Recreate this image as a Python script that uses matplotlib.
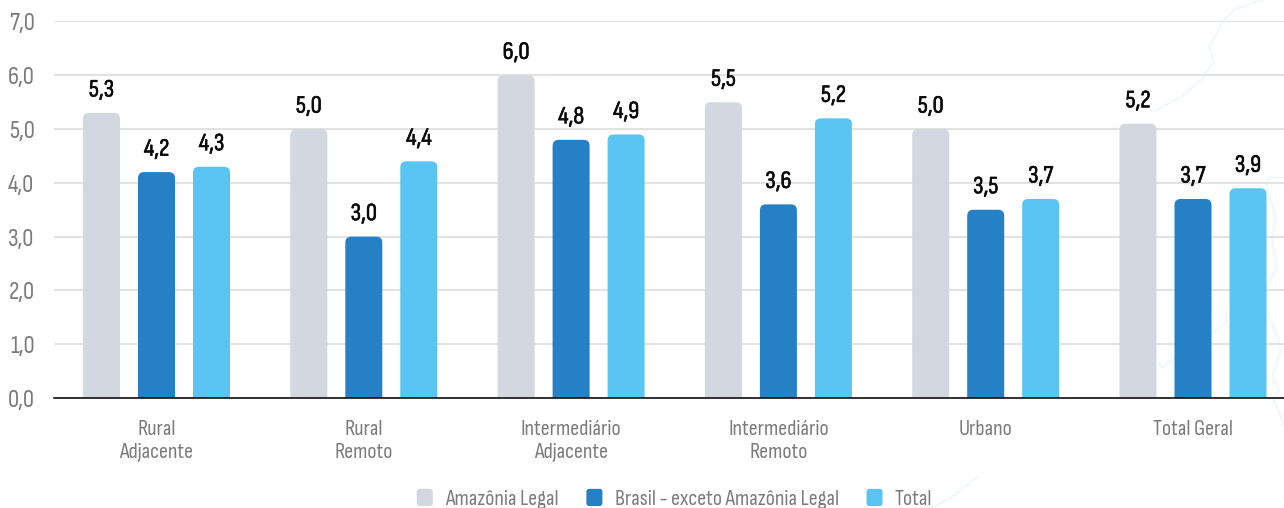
import numpy as np
from matplotlib import pyplot as plt
from matplotlib import patheffects as pe
from matplotlib.legend_handler import HandlerPatch
from matplotlib.lines import Line2D
from matplotlib.patches import FancyBboxPatch, Patch

categories = ['Rural\nAdjacente', 'Rural\nRemoto', 'Intermediário\nAdjacente',
              'Intermediário\nRemoto', 'Urbano', 'Total Geral']
series_names = ['Amazônia Legal', 'Brasil - exceto Amazônia Legal', 'Total']
amazonia = [5.3, 5.0, 6.0, 5.5, 5.0, 5.1]
brasil = [4.2, 3.0, 4.8, 3.6, 3.5, 3.7]
total = [4.3, 4.4, 4.9, 5.2, 3.7, 3.9]
amazonia_labels = ['5,3', '5,0', '6,0', '5,5', '5,0', '5,2']
colors = ['#d3d8e0', '#2580c5', '#5ac5f2']
yticks = [0, 1, 2, 3, 4, 5, 6, 7]

# faint map outline behind the chart, traced in pixels
map_outline = [
    [(1264, 0), (1251, 3), (1234, 10), (1224, 20), (1209, 47), (1214, 62), (1201, 80), (1181, 97), (1156, 110)],
    [(1284, 178), (1269, 177), (1266, 187), (1276, 217), (1272, 240), (1277, 267), (1267, 287), (1267, 310),
     (1276, 333), (1281, 350), (1272, 377), (1279, 390), (1274, 400), (1284, 425)],
    [(1226, 312), (1227, 323), (1212, 333), (1209, 340)],
    [(1174, 358), (1162, 368), (1159, 363)],
    [(978, 476), (955, 495), (932, 508)],
]

plt.rcParams['font.family'] = ['Sofia Sans Condensed', 'Roboto', 'DejaVu Sans']


class RoundHandle(HandlerPatch):
    def create_artists(self, legend, orig, xd, yd, w, h, fontsize, trans):
        p = FancyBboxPatch((-xd + 2, -yd + 2), w - 4, h - 4, boxstyle='round,pad=2,rounding_size=2',
                           fc=orig.get_facecolor(), ec='none', transform=trans)
        return [p]


W, H = 1284, 508
fig = plt.figure(figsize=(W / 100, H / 100), dpi=100)
ax = fig.add_axes([54 / W, (H - 398) / H, 1 - 54 / W, (398 - 21.5) / H])
ax.patch.set_visible(False)

for seg in map_outline:
    px = np.array(seg, dtype=float)
    fig.add_artist(Line2D(px[:, 0] / W, 1 - px[:, 1] / H, transform=fig.transFigure,
                          color='#f0f8fe', lw=1.5, zorder=0))

x = np.arange(len(categories))
ax.set_xlim((54 - 156.5) / 207.3, (1284 - 156.5) / 207.3)
ax.set_ylim(0, 7)

# px -> data scales, for the rounded bar tops
sx = 207.3
sy = (398 - 21.5) / 7
bar_w = 37 / sx
pitch = 55 / sx
radius = 6 / sx

all_values = [amazonia, brasil, total]
all_labels = [amazonia_labels,
              ['%.1f' % v for v in brasil],
              ['%.1f' % v for v in total]]
for i, values in enumerate(all_values):
    for xi, v, lab in zip(x, values, all_labels[i]):
        left = xi + (i - 1) * pitch - bar_w / 2
        # bottom corners hang below the axis and get clipped
        box = FancyBboxPatch((left + radius, -1), bar_w - 2 * radius, v + 1 - radius * sx / sy,
                             boxstyle='round,pad=%f,rounding_size=%f' % (radius, radius),
                             mutation_aspect=sx / sy, fc=colors[i], ec='none', zorder=3)
        ax.add_patch(box)
        t = ax.annotate(lab.replace('.', ','), (xi + (i - 1) * pitch, v), xytext=(0, 16.5),
                        textcoords='offset points', ha='center', va='center',
                        fontsize=18, color='#0a0a0a', zorder=4)
        # font only has one weight, thicken it a bit
        t.set_path_effects([pe.withStroke(linewidth=0.4, foreground='#0a0a0a')])

ax.set_yticks(yticks)
ax.set_yticklabels(['%d,0' % t for t in yticks], fontsize=18, color='#7b7b7b')
ax.set_xticks(x)
ax.set_xticklabels(categories, fontsize=16, color='#7b7b7b', linespacing=1.25)
ax.tick_params(axis='both', length=0)
ax.tick_params(axis='y', pad=14)
ax.tick_params(axis='x', pad=16)
ax.grid(axis='y', color='#e2e2e2', lw=1.5, zorder=0)
ax.set_axisbelow(True)
for s in ['top', 'right', 'left']:
    ax.spines[s].set_visible(False)
ax.spines['bottom'].set_color('#111111')
ax.spines['bottom'].set_linewidth(1.2)
ax.spines['bottom'].set_zorder(5)

handles = [Patch(fc=c, ec='none') for c in colors]
leg = ax.legend(handles, series_names, ncol=3, frameon=False, loc='center', fontsize=16,
                handler_map={Patch: RoundHandle()},
                labelcolor='#7b7b7b', handlelength=0.72, handleheight=0.81,
                handletextpad=0.55, columnspacing=1.25, borderpad=0, borderaxespad=0)
leg.set_bbox_to_anchor((674.5 / W, 9 / H), transform=fig.transFigure)

fig.savefig('out.png', dpi=100)
